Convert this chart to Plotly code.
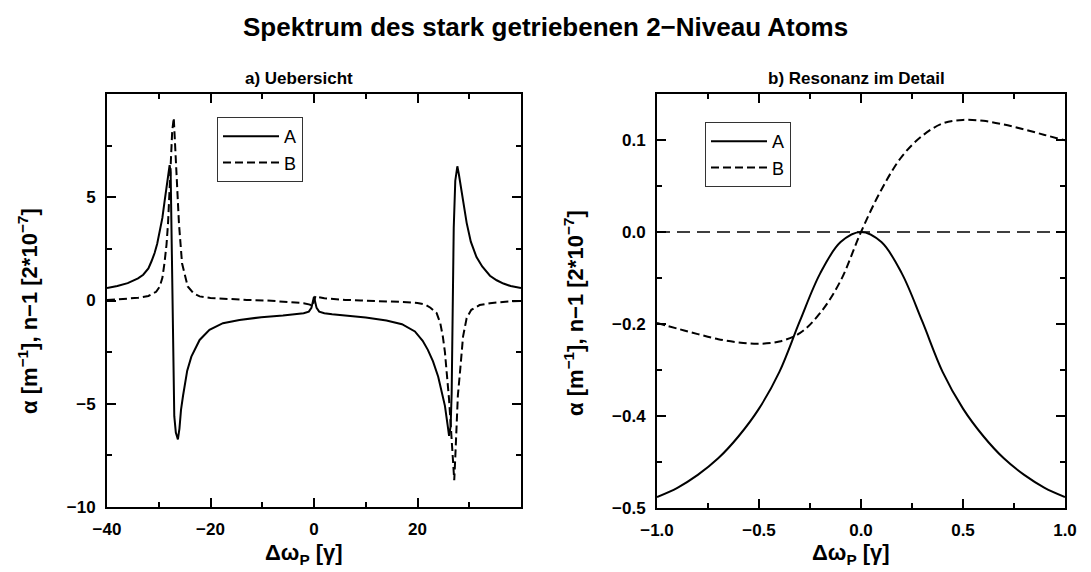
import plotly.graph_objects as go

# ---------------- data ----------------
# panel a) overview
a_x_A = [-40, -38, -36, -34, -33, -32, -31.4, -30.8, -30.3, -29.8, -29.3, -28.9, -28.5, -28.2, -27.9,
         -27.7, -27.45, -27.2, -27.0, -26.7, -26.3, -26.0, -25.7, -25.3, -25.0, -24.5,
         -23.7, -22.1, -20.2, -17.6, -14.4, -10.2, -6.0, -3.5, -2.0, -1.0, -0.5, 0.0,
         0.5, 1.0, 2.0, 3.5, 6.0, 10.0, 14.0, 17.0, 19.5, 21.0, 22.0, 23.0, 24.0, 24.7,
         25.3, 25.8, 26.1, 26.4, 26.6, 26.8, 27.0, 27.3, 27.5, 27.7, 28.0, 28.5, 29.0,
         29.5, 30.3, 31.4, 32.5, 34.0, 35.3, 36.6, 38.0, 40.0]
a_y_A = [0.60, 0.70, 0.84, 1.07, 1.25, 1.55, 1.90, 2.30, 2.75, 3.30, 4.00, 4.75, 5.55, 6.10, 6.55,
         6.20, 2.00, -4.00, -5.60, -6.40, -6.73, -6.20, -5.30, -4.60, -4.20, -3.40,
         -2.72, -1.91, -1.42, -1.10, -0.94, -0.81, -0.73, -0.67, -0.62, -0.54, -0.36, 0.18,
         -0.36, -0.54, -0.62, -0.67, -0.73, -0.82, -0.97, -1.15, -1.50, -1.95, -2.39, -2.95, -3.69, -4.40,
         -5.10, -6.00, -6.55, -6.10, -4.50, -0.50, 3.50, 5.80, 6.30, 6.50, 6.10, 5.37, 4.50,
         3.76, 2.85, 2.10, 1.65, 1.20, 0.98, 0.82, 0.70, 0.60]

a_x_B = [-40, -37, -34, -32, -30.5, -29.8, -29.3, -28.9, -28.5, -28.2, -27.8, -27.4,
         -27.1, -26.9, -26.6, -26.1, -25.5, -24.9, -24.4, -23.3, -22.1, -20, -17, -13,
         -9, -6, -3.7, -2, -0.8, -0.3,
         0.3, 0.8, 2, 3.7, 6, 9, 13, 17, 20, 21.5, 22.5, 23.7, 24.4, 24.9, 25.3, 25.7,
         26.1, 26.4, 26.8, 27.1, 27.3, 27.5, 27.8, 28.2, 28.8, 29.5, 30.4, 32, 34, 37, 40]
a_y_B = [0.02, 0.06, 0.13, 0.22, 0.42, 0.68, 1.10, 1.80, 2.70, 3.77, 6.20, 8.20,
         8.85, 7.70, 6.18, 3.75, 1.80, 1.10, 0.68, 0.35, 0.20, 0.12, 0.07, 0.03,
         0.00, -0.04, -0.09, -0.13, -0.20, -0.27,
         0.22, 0.17, 0.11, 0.07, 0.03, 0.00, -0.03, -0.07, -0.12, -0.20, -0.35, -0.61, -1.10, -1.75, -2.50, -3.50,
         -4.80, -5.95, -7.60, -8.70, -7.60, -5.95, -4.60, -3.50, -1.75, -0.85, -0.45, -0.22, -0.13, -0.06, -0.02]

# panel b) resonance detail (values in the panel's evenly spaced axis units)
b_x = [-1.0, -0.9, -0.8, -0.7, -0.6, -0.5, -0.4, -0.3, -0.2, -0.1, 0.0,
       0.1, 0.2, 0.3, 0.4, 0.5, 0.6, 0.7, 0.8, 0.9, 1.0]
b_y_A = [-0.288, -0.278, -0.264, -0.246, -0.222, -0.192, -0.152, -0.097, -0.045, -0.011, 0.0,
         -0.011, -0.045, -0.097, -0.152, -0.192, -0.222, -0.246, -0.264, -0.278, -0.288]
b_y_B = [-0.099, -0.105, -0.111, -0.1165, -0.120, -0.1215, -0.119, -0.110, -0.088, -0.053, 0.0,
         0.046, 0.082, 0.1045, 0.118, 0.1218, 0.1208, 0.1168, 0.1115, 0.1055, 0.0996]

# tick positions / labels
a_xticks = [-40, -20, 0, 20]
a_xticklabels = ["−40", "−20", "0", "20"]
a_xminor = [-30, -10, 10, 30]
a_yticks = [-10, -5, 0, 5]
a_yticklabels = ["−10", "−5", "0", "5"]
a_yminor = [-7.5, -2.5, 2.5, 7.5]
b_xticks = [-1.0, -0.5, 0.0, 0.5, 1.0]
b_xticklabels = ["−1.0", "−0.5", "0.0", "0.5", "1.0"]
b_xminor = [-0.75, -0.25, 0.25, 0.75]
b_yticks = [-0.3, -0.2, -0.1, 0.0, 0.1]
b_yticklabels = ["−0.5", "−0.4", "−0.2", "0.0", "0.1"]
b_yminor = [-0.25, -0.15, -0.05, 0.05]

# ---------------- figure ----------------
W, H = 1091, 572
FONT = "Liberation Sans, Arial, Helvetica, sans-serif"

def px_x(p):
    return p / W

def px_y(p):
    return 1 - p / H

fig = go.Figure()
solid = dict(color="black", width=2)
dashed = dict(color="black", width=2, dash="8px,4px")

fig.add_trace(go.Scatter(x=a_x_A, y=a_y_A, mode="lines", name="A", line=solid,
                         xaxis="x", yaxis="y", legend="legend"))
fig.add_trace(go.Scatter(x=a_x_B, y=a_y_B, mode="lines", name="B", line=dashed,
                         xaxis="x", yaxis="y", legend="legend"))
fig.add_trace(go.Scatter(x=b_x, y=b_y_A, mode="lines", name="A", line=dict(solid, shape="spline"),
                         xaxis="x2", yaxis="y2", legend="legend2"))
fig.add_trace(go.Scatter(x=b_x, y=b_y_B, mode="lines", name="B", line=dict(dashed, shape="spline"),
                         xaxis="x2", yaxis="y2", legend="legend2"))

tickfont = dict(family=FONT, size=17, color="black", weight="bold")

def axis(domain, anchor, rng, tv, tt, minor):
    return dict(domain=domain, anchor=anchor, range=rng, tickmode="array",
                tickvals=tv, ticktext=tt, ticks="inside", ticklen=9, tickwidth=2,
                tickcolor="black", showline=True, linewidth=2, linecolor="black",
                mirror="ticks", showgrid=False, zeroline=False, tickfont=tickfont,
                ticklabelstandoff=6, automargin=False,
                minor=dict(tickvals=minor, ticks="inside", ticklen=5, tickwidth=2,
                           tickcolor="black", showgrid=False))

legend_common = dict(xanchor="left", yanchor="top", bgcolor="white", bordercolor="#333",
                     borderwidth=1, font=dict(family=FONT, size=18, color="black"),
                     itemwidth=56)

fig.update_layout(
    width=W, height=H, margin=dict(l=0, r=0, t=0, b=0, autoexpand=False),
    paper_bgcolor="white", plot_bgcolor="white",
    xaxis=axis([px_x(107), px_x(521)], "y", [-40, 40], a_xticks, a_xticklabels, a_xminor),
    yaxis=axis([px_y(507), px_y(94)], "x", [-10, 10], a_yticks, a_yticklabels, a_yminor),
    xaxis2=axis([px_x(657), px_x(1065)], "y2", [-1, 1], b_xticks, b_xticklabels, b_xminor),
    yaxis2=axis([px_y(508), px_y(94)], "x2", [-0.3, 0.15], b_yticks, b_yticklabels, b_yminor),
    legend=dict(legend_common, x=px_x(217), y=px_y(117)),
    legend2=dict(legend_common, x=px_x(705), y=px_y(122)),
    showlegend=True,
)

# zero reference line in panel b
fig.add_shape(type="line", xref="x2 domain", x0=0, x1=1, yref="y2", y0=0, y1=0,
              line=dict(color="black", width=1.4, dash="13px,7px"), layer="below")

ann_font = dict(family=FONT, color="black", weight="bold")
ytitle = "α [m<sup>−1</sup>], n−1 [2*10<sup>−7</sup>]"
xtitle = "Δω<sub>P</sub> [γ]"
annotations = [
    dict(text="Spektrum des stark getriebenen 2−Niveau Atoms", x=px_x(545.5), y=px_y(27),
         font=dict(ann_font, size=26)),
    dict(text="a) Uebersicht", x=px_x(299), y=px_y(78), font=dict(ann_font, size=17)),
    dict(text="b) Resonanz im Detail", x=px_x(856), y=px_y(78), font=dict(ann_font, size=17)),
    dict(text=ytitle, x=px_x(28), y=px_y(311), textangle=-90, font=dict(ann_font, size=22)),
    dict(text=ytitle, x=px_x(574), y=px_y(313), textangle=-90, font=dict(ann_font, size=22)),
    dict(text=xtitle, x=px_x(304), y=px_y(554), font=dict(ann_font, size=22)),
    dict(text=xtitle, x=px_x(851), y=px_y(554), font=dict(ann_font, size=22)),
]
for a in annotations:
    a.update(xref="paper", yref="paper", showarrow=False, xanchor="center", yanchor="middle")
fig.update_layout(annotations=annotations)

fig.write_html("out.html")
